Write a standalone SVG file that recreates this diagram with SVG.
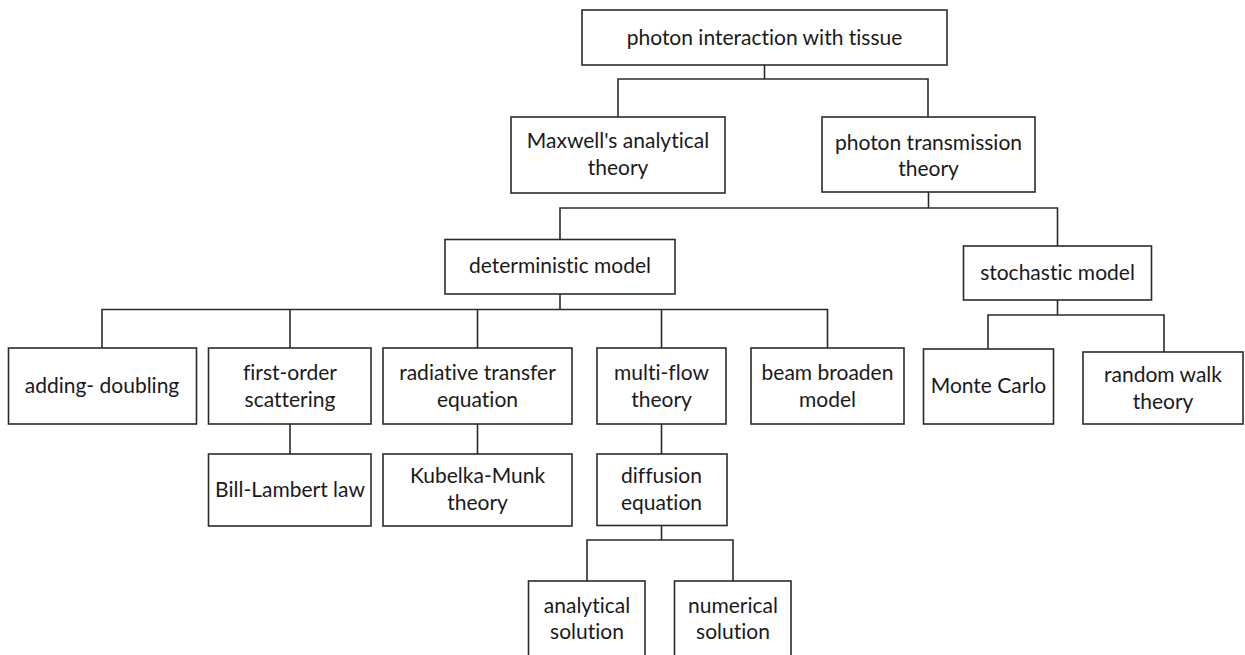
<svg xmlns="http://www.w3.org/2000/svg" width="1245" height="655" viewBox="0 0 1245 655">
<style>
rect{fill:#fff;stroke:#2b2b2b;stroke-width:1.6}
text{font-family:Lato,"Liberation Sans",sans-serif;font-size:21px;fill:#1a1a1a;text-anchor:middle;font-variant-ligatures:none}
.c path{fill:none;stroke:#2b2b2b;stroke-width:1.6}
</style>
<rect x="0" y="0" width="1245" height="655" style="fill:#fff;stroke:none"/>
<g class="c" id="connectors">
<path d="M764.5 65V79M618 117V79H928V117"/>
<path d="M928.5 192V208M560 239.5V208H1057.5V246"/>
<path d="M560 294V309.5M102 348V309.5H827.5V348M290 309.5V348M477.5 309.5V348M661.5 309.5V348"/>
<path d="M1057.5 300V315M988 349V315H1164V352"/>
<path d="M290 424V454M477.5 424V454M661.5 424V454"/>
<path d="M661.5 526V540M587 581V540H733V581"/>
</g>
<g id="n-root"><rect x="582" y="10" width="365" height="55"/><text x="764.5" y="45">photon interaction with tissue</text></g>
<g id="n-maxwell"><rect x="511" y="117" width="214" height="76"/><text x="618" y="148">Maxwell's analytical</text><text x="618" y="175">theory</text></g>
<g id="n-transmission"><rect x="822" y="117" width="213" height="75"/><text x="928.5" y="150">photon transmission</text><text x="928.5" y="176">theory</text></g>
<g id="n-deterministic"><rect x="445" y="239.5" width="230" height="54.5"/><text x="560" y="273">deterministic model</text></g>
<g id="n-stochastic"><rect x="963.5" y="246" width="188" height="54"/><text x="1057.5" y="280">stochastic model</text></g>
<g id="n-adding"><rect x="8.5" y="348" width="188" height="76"/><text x="102" y="393">adding- doubling</text></g>
<g id="n-firstorder"><rect x="208.5" y="348" width="162.5" height="76"/><text x="290" y="380">first-order</text><text x="290" y="407">scattering</text></g>
<g id="n-radiative"><rect x="383" y="348" width="189" height="76"/><text x="477.5" y="380">radiative transfer</text><text x="477.5" y="407">equation</text></g>
<g id="n-multiflow"><rect x="597" y="348" width="129" height="76"/><text x="661.5" y="380">multi-flow</text><text x="661.5" y="407">theory</text></g>
<g id="n-beam"><rect x="751" y="348" width="153" height="76"/><text x="827.5" y="380">beam broaden</text><text x="827.5" y="407">model</text></g>
<g id="n-montecarlo"><rect x="923.5" y="349" width="130" height="75"/><text x="988.5" y="393">Monte Carlo</text></g>
<g id="n-randomwalk"><rect x="1083" y="352" width="160" height="72"/><text x="1163" y="382">random walk</text><text x="1163" y="409">theory</text></g>
<g id="n-bill"><rect x="208.5" y="454" width="162.5" height="72"/><text x="290" y="497">Bill-Lambert law</text></g>
<g id="n-kubelka"><rect x="383" y="454" width="189" height="72"/><text x="477.5" y="483">Kubelka-Munk</text><text x="477.5" y="510">theory</text></g>
<g id="n-diffusion"><rect x="597" y="454" width="130" height="71.5"/><text x="661.5" y="483">diffusion</text><text x="661.5" y="510">equation</text></g>
<g id="n-analytical"><rect x="528.5" y="581" width="116.5" height="90"/><text x="587" y="613">analytical</text><text x="587" y="639">solution</text></g>
<g id="n-numerical"><rect x="674.5" y="581" width="116.5" height="90"/><text x="733" y="613">numerical</text><text x="733" y="639">solution</text></g>
</svg>
